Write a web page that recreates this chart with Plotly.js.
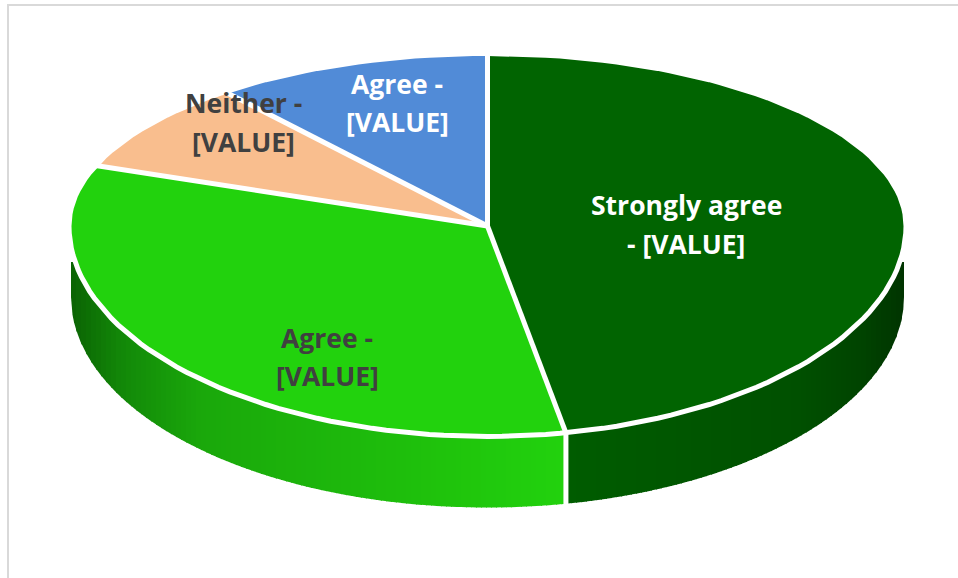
<!DOCTYPE html>
<html><head><meta charset="utf-8">
<script src="https://cdn.plot.ly/plotly-3.0.1.min.js"></script>
<style>html,body{margin:0;padding:0;background:#fff}#c{width:958px;height:578px}</style>
</head><body><div id="c"></div>
<script>
const categories = ["Strongly agree", "Agree", "Neither", "Agree"];
const values = [47, 33.7, 8.5, 10.8];
const sliceColors = ["#016401", "#22d20d", "#f9be8e", "#518bd7"];
const labelLines = [["Strongly agree", "- [VALUE]"], ["Agree -", "[VALUE]"], ["Neither -", "[VALUE]"], ["Agree -", "[VALUE]"]];
const labelColors = ["#ffffff", "#404040", "#404040", "#ffffff"];
const labelCentres = [[686, 205, 244], [327, 338, 376], [243, 103, 142], [397, 84, 122]];

const cx = 487.5, cy = 226, rx = 418.5, ryTop = 172.5, ryBot = 210.5, wallRx = 416.5, depth = 71, sideTop = 262;
const total = values.reduce((a, b) => a + b, 0);
const pt = deg => { const t = deg * Math.PI / 180, c = Math.cos(t);
  return [cx + rx * Math.sin(t), cy - (c > 0 ? ryTop : ryBot) * c]; };

// side wall shading stops: [screen x, rgb]
const sideStopsA = [[72,[11,100,4]],[120,[18,135,8]],[200,[26,168,11]],[400,[30,190,12]],[567,[34,210,13]]];
const sideStopsB = [[567,[0,92,0]],[800,[0,80,0]],[860,[0,68,0]],[904,[0,52,0]]];
const shade = (stops, x) => { for (let i = 1; i < stops.length; i++) if (x <= stops[i][0]) {
    const f = (x - stops[i-1][0]) / (stops[i][0] - stops[i-1][0]);
    return "rgb(" + stops[i][1].map((v, k) => Math.round(stops[i-1][1][k] + (v - stops[i-1][1][k]) * f)).join(",") + ")"; }
  return "rgb(" + stops[stops.length-1][1].join(",") + ")"; };

const traces = [];
const base = {type: "scatter", mode: "lines", fill: "toself", line: {width: 0}, hoverinfo: "skip", showlegend: false};
// side wall
const splitX = pt(values[0] / total * 360)[0];
const wallBottom = x => cy + depth + ryBot * Math.sqrt(Math.max(0, 1 - Math.pow((x - cx) / wallRx, 2)));
const step = 5;
for (let x = cx - wallRx; x < cx + wallRx; x += step) {
  const x2 = Math.min(x + step + 1, cx + wallRx), xs = [], ys = [];
  for (let u = x; u <= x2 + 0.001; u += (x2 - x) / 4) { xs.push(u); ys.push(wallBottom(u)); }
  xs.push(x2, x, x); ys.push(sideTop, sideTop, wallBottom(x));
  const m = x + step / 2;
  const col = m < splitX ? shade(sideStopsA, m) : shade(sideStopsB, m);
  traces.push(Object.assign({}, base, {x: xs, y: ys, fillcolor: col}));
}
// top face slices
let acc = 0;
values.forEach((v, i) => {
  const a0 = acc / total * 360, a1 = (acc + v) / total * 360; acc += v;
  const xs = [cx], ys = [cy];
  for (let k = 0; k <= 90; k++) { const p = pt(a0 + (a1 - a0) * k / 90); xs.push(p[0]); ys.push(p[1]); }
  xs.push(cx); ys.push(cy);
  traces.push(Object.assign({}, base, {x: xs, y: ys, fillcolor: sliceColors[i], name: categories[i], line: {width: 0}}));
});
// rim
const rimX = [], rimY = [];
for (let k = 0; k <= 360; k += 2) { const p = pt(k); rimX.push(p[0]); rimY.push(p[1]); }
traces.push({type: "scatter", mode: "lines", x: rimX, y: rimY, line: {color: "#fff", width: 5}, hoverinfo: "skip", showlegend: false});
// separators
acc = 0;
values.forEach(v => {
  const p = pt(acc / total * 360); acc += v;
  traces.push({type: "scatter", mode: "lines", x: [cx, p[0]], y: [cy, p[1]], line: {color: "#fff", width: 5}, hoverinfo: "skip", showlegend: false});
});
const sp = pt(values[0] / total * 360);
traces.push({type: "scatter", mode: "lines", x: [sp[0], sp[0]], y: [sp[1], wallBottom(sp[0]) + 2], line: {color: "#fff", width: 5}, hoverinfo: "skip", showlegend: false});

const annotations = [];
labelLines.forEach((lines, i) => lines.forEach((t, j) => annotations.push({
  x: labelCentres[i][0], y: labelCentres[i][j + 1], xref: "x", yref: "y", text: t, showarrow: false,
  xanchor: "center", yanchor: "middle",
  font: {family: "'Open Sans', sans-serif", size: 26.5, weight: 700, color: labelColors[i]}
})));

const axis = {visible: false, fixedrange: true, zeroline: false, showgrid: false};
Plotly.newPlot("c", traces, {
  width: 958, height: 578, margin: {l: 0, r: 0, t: 0, b: 0},
  paper_bgcolor: "#fff", plot_bgcolor: "#fff", showlegend: false,
  xaxis: Object.assign({range: [0, 958]}, axis),
  yaxis: Object.assign({range: [578, 0]}, axis),
  annotations,
  shapes: [
    {type: "line", x0: 8, x1: 8, y0: 4, y1: 578, line: {color: "#d9d9d9", width: 2}},
    {type: "line", x0: 7, x1: 958, y0: 5, y1: 5, line: {color: "#d9d9d9", width: 2}}
  ]
}, {displayModeBar: false, staticPlot: true});
</script></body></html>
